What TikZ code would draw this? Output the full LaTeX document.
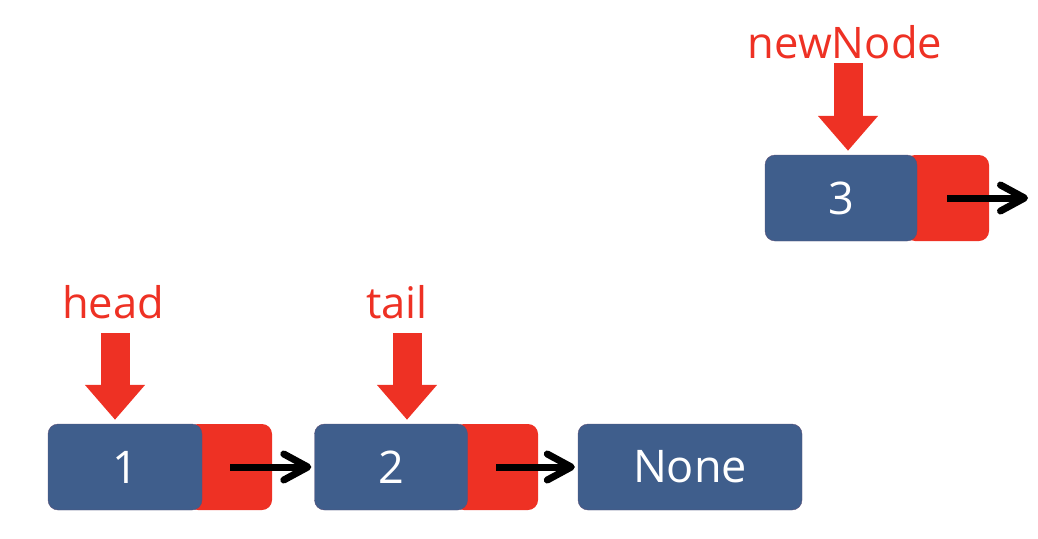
\documentclass[tikz,border=0pt]{standalone}
\usepackage{fontspec}
\setmainfont{Open Sans}
\usetikzlibrary{arrows.meta}
\definecolor{boxblue}{HTML}{3F5E8C}
\definecolor{ptrred}{HTML}{EE3124}
\tikzset{
  valbox/.style={fill=boxblue, draw=boxblue!85!red, rounded corners=10pt, text=white,
    minimum height=86pt, inner sep=0pt, font=\fontsize{45}{45}\selectfont},
  nextbox/.style={fill=ptrred, rounded corners=10pt, minimum width=84pt,
    minimum height=86pt, inner sep=0pt},
  link/.style={line width=7pt, -{Straight Barb[length=24pt,width=26pt,round]}},
  ptr/.style={draw=ptrred, line width=29pt, -{Triangle[length=35pt,width=58pt]}},
  ptrlabel/.style={text=ptrred, inner sep=0pt, font=\fontsize{43.5}{43.5}\selectfont}
}

\begin{document}
\begin{tikzpicture}[x=1pt,y=-1pt]
	\useasboundingbox (0,0) rectangle (1038,538);
	% list nodes: next field first, value on top
	\node[nextbox] (n1next) at (230,467) {};
	\node[valbox, minimum width=154pt] (n1) at (125,467) {1};
	\node[nextbox] (n2next) at (496,467) {};
	\node[valbox, minimum width=153pt] (n2) at (391,467) {2};
	\node[valbox, minimum width=224pt] (none) at (690,467) {None};
	\node[nextbox] (n3next) at (947,198) {};
	\node[valbox, minimum width=152pt] (n3) at (841,198) {3};
	\coordinate (n3end) at (1028,198);
	% links
	\draw[link] (n1next.center) -- ([xshift=-3pt]n2.west);
	\draw[link] (n2next.center) -- ([xshift=-3pt]none.west);
	\draw[link] (n3next.center) -- (n3end);
	% pointers
	\node[ptrlabel, anchor=base] (head) at (113,318) {head};
	\node[ptrlabel, anchor=base] (tail) at (397,318) {tail};
	\node[ptrlabel, anchor=base] (newnode) at (845,58) {newNode};
	\coordinate (headtop) at (115,333);
	\coordinate (tailtop) at (407,333);
	\coordinate (newtop) at (848,63);
	\draw[ptr, shorten >=4pt] (headtop) -- (headtop |- n1.north);
	\draw[ptr, shorten >=4pt] (tailtop) -- (tailtop |- n2.north);
	\draw[ptr, shorten >=4pt] (newtop) -- (newtop |- n3.north);
\end{tikzpicture}
\end{document}
